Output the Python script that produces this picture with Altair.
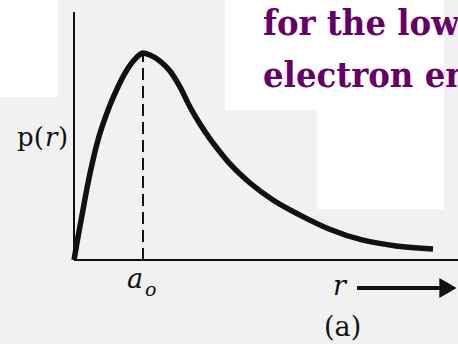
import altair as alt
import pandas as pd

# Radial probability density p(r) for the hydrogen ground state
# (r in units of the Bohr radius a_o, p scaled to 1 at the peak)
r_values = [0.0, 0.058, 0.130, 0.203, 0.275, 0.348, 0.435, 0.522, 0.623,
            0.725, 0.826, 0.913, 1.0, 1.101, 1.246, 1.391, 1.536, 1.681,
            1.826, 1.971, 2.116, 2.261, 2.406, 2.551, 2.884, 3.275, 3.696,
            4.174, 4.667, 5.203]
p_values = [0.0, 0.111, 0.242, 0.372, 0.483, 0.580, 0.671, 0.749, 0.826,
            0.894, 0.947, 0.981, 1.0, 0.990, 0.961, 0.913, 0.836, 0.739,
            0.657, 0.585, 0.522, 0.464, 0.415, 0.372, 0.290, 0.217, 0.150,
            0.097, 0.068, 0.053]

peak_r = 1.0          # most probable radius, a_o
peak_p = 1.0

title_lines = ["for the low", "electron en"]

W, H = 458, 344
INK = "#111111"
PAPER = "#f1f1f1"
PURPLE = "#660066"
SERIF = "DejaVu Serif"
SERIF_NARROW = "DejaVu Serif Condensed, DejaVu Serif"

# canvas <-> data conversion (origin of the graph at pixel 74, 260)
X0, Y0, KX, KY = 74.0, 260.0, 69.0, 207.0


def rx(px):
    return (px - X0) / KX


def py(px):
    return (Y0 - px) / KY


R_MIN, R_MAX = rx(0), rx(W)
P_MIN, P_MAX = py(H), py(0)

xs = alt.Scale(domain=[R_MIN, R_MAX], nice=False, zero=False)
ys = alt.Scale(domain=[P_MIN, P_MAX], nice=False, zero=False)


def X(f):
    return alt.X(f, type="quantitative", scale=xs, axis=None)


def Y(f):
    return alt.Y(f, type="quantitative", scale=ys, axis=None)


curve = pd.DataFrame({"r": r_values, "p": p_values})

# paper-coloured backdrop behind the graph
panels = pd.DataFrame({
    "a": [rx(58), rx(0), rx(225), rx(317)],
    "b": [rx(W), rx(58), rx(444), rx(444)],
    "c": [py(0), py(97), py(0), py(110)],
    "d": [py(H), py(H), py(110), py(209)],
    "fill": [PAPER, PAPER, "white", "white"],
})
backdrop = alt.Chart(panels).mark_rect(strokeWidth=0).encode(
    x=X("a"), x2="b", y=Y("c"), y2="d",
    fill=alt.Fill("fill:N", scale=None))

# axes, peak marker and arrow as line segments
segs = pd.DataFrame({
    "a": [0, 0, peak_r, rx(357)],
    "b": [0, R_MAX, peak_r, rx(440)],
    "c": [0, 0, 0, py(288)],
    "d": [py(12), 0, peak_p, py(288)],
    "kind": ["axis", "axis", "dash", "arrow"],
})
axes = alt.Chart(segs).transform_filter("datum.kind == 'axis'").mark_rule(
    color=INK, strokeWidth=2).encode(x=X("a"), x2="b", y=Y("c"), y2="d")
dash = alt.Chart(segs).transform_filter("datum.kind == 'dash'").mark_rule(
    color=INK, strokeWidth=2, strokeDash=[12, 6]).encode(
    x=X("a"), x2="b", y=Y("c"), y2="d")
shaft = alt.Chart(segs).transform_filter("datum.kind == 'arrow'").mark_rule(
    color=INK, strokeWidth=4).encode(x=X("a"), x2="b", y=Y("c"), y2="d")
head = alt.Chart(pd.DataFrame({"r": [rx(448)], "p": [py(288)]})).mark_point(
    shape="triangle-right", filled=True, size=400, color=INK, opacity=1
).encode(x=X("r"), y=Y("p"))

line = alt.Chart(curve).mark_line(
    color=INK, strokeWidth=5.5, interpolate="monotone", strokeCap="butt"
).encode(x=X("r"), y=Y("p"))


def label(txt, x, y, size, font=SERIF, style="normal", weight="normal",
          color=INK):
    return alt.Chart(pd.DataFrame({"r": [rx(x)], "p": [py(y)]})).mark_text(
        text=txt, font=font, fontSize=size, fontStyle=style,
        fontWeight=weight, color=color, align="left", baseline="alphabetic"
    ).encode(x=X("r"), y=Y("p"))


texts = [
    label("p(", 17, 146, 26),
    label("r", 45, 146, 26, style="italic"),
    label(")", 58, 146, 26),
    label("a", 127, 288, 27, style="italic"),
    label("o", 145, 296, 19, style="italic"),
    label("r", 333, 295, 27, style="italic"),
    label("(a)", 324, 336, 27),
    label(title_lines[0], 263, 35, 36, font=SERIF_NARROW, weight="bold",
          color=PURPLE),
    label(title_lines[1], 263, 87, 36, font=SERIF_NARROW, weight="bold",
          color=PURPLE),
]

chart = alt.layer(
    backdrop, axes, dash, line, shaft, head, *texts
).properties(
    width=W, height=H, padding=0, autosize=alt.AutoSizeParams(type="none"),
    background="white"
).configure_view(stroke=None)

chart.save("out.html", embed_options={"renderer": "svg", "actions": False})
